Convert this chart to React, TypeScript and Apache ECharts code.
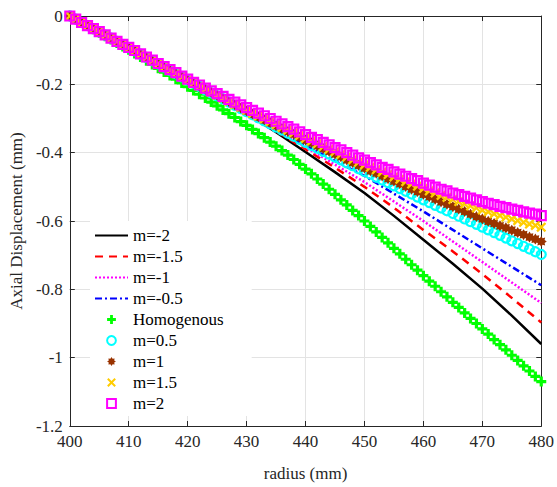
import React, { useEffect, useRef } from "react";
import * as echarts from "echarts";

// Sampling radii (mm)
const radiusFine = [
  400, 401, 402, 403, 404, 405, 406, 407, 408, 409, 410, 411, 412, 413, 414, 415, 416, 417, 418, 419,
  420, 421, 422, 423, 424, 425, 426, 427, 428, 429, 430, 431, 432, 433, 434, 435, 436, 437, 438, 439,
  440, 441, 442, 443, 444, 445, 446, 447, 448, 449, 450, 451, 452, 453, 454, 455, 456, 457, 458, 459,
  460, 461, 462, 463, 464, 465, 466, 467, 468, 469, 470, 471, 472, 473, 474, 475, 476, 477, 478, 479, 480,
];
const radiusCoarse = [400, 405, 410, 415, 420, 425, 430, 435, 440, 445, 450, 455, 460, 465, 470, 475, 480];

// Line-only series (sampled every 5 mm)
const mNeg2 = [0, -0.046, -0.093, -0.141, -0.189, -0.237, -0.286, -0.34, -0.398, -0.457, -0.518, -0.585, -0.655, -0.725, -0.798, -0.877, -0.96];
const mNeg15 = [0, -0.046, -0.093, -0.141, -0.189, -0.237, -0.285, -0.337, -0.39, -0.444, -0.5, -0.561, -0.626, -0.689, -0.755, -0.825, -0.897];
const mNeg1 = [0, -0.046, -0.093, -0.141, -0.189, -0.237, -0.284, -0.333, -0.384, -0.435, -0.486, -0.543, -0.6, -0.66, -0.72, -0.78, -0.84];
const mNeg05 = [0, -0.046, -0.093, -0.141, -0.189, -0.236, -0.283, -0.331, -0.379, -0.424, -0.468, -0.52, -0.572, -0.626, -0.68, -0.734, -0.788];

// Marker series (sampled every 1 mm)
const homogenous = [
  0, -0.0095, -0.019, -0.029, -0.039, -0.049, -0.059, -0.069, -0.079, -0.089,
  -0.099, -0.11, -0.12, -0.131, -0.142, -0.153, -0.164, -0.174, -0.185, -0.196,
  -0.207, -0.218, -0.229, -0.24, -0.252, -0.263, -0.275, -0.286, -0.297, -0.309,
  -0.32, -0.332, -0.344, -0.356, -0.369, -0.381, -0.394, -0.407, -0.42, -0.434,
  -0.448, -0.462, -0.477, -0.492, -0.507, -0.522, -0.538, -0.553, -0.569, -0.584,
  -0.6, -0.616, -0.632, -0.648, -0.664, -0.68, -0.696, -0.712, -0.728, -0.744,
  -0.76, -0.776, -0.791, -0.807, -0.822, -0.838, -0.853, -0.869, -0.885, -0.9,
  -0.916, -0.931, -0.947, -0.962, -0.977, -0.993, -1.008, -1.024, -1.039, -1.055, -1.07,
];
const m05 = [
  0, -0.009, -0.019, -0.028, -0.037, -0.046, -0.056, -0.065, -0.074, -0.084,
  -0.093, -0.102, -0.112, -0.121, -0.131, -0.14, -0.15, -0.159, -0.169, -0.178,
  -0.188, -0.197, -0.206, -0.216, -0.225, -0.234, -0.243, -0.252, -0.262, -0.271,
  -0.28, -0.289, -0.298, -0.307, -0.316, -0.325, -0.334, -0.343, -0.352, -0.361,
  -0.37, -0.379, -0.387, -0.396, -0.404, -0.413, -0.421, -0.43, -0.438, -0.447,
  -0.455, -0.463, -0.472, -0.48, -0.488, -0.497, -0.505, -0.513, -0.521, -0.53,
  -0.538, -0.546, -0.554, -0.562, -0.57, -0.578, -0.586, -0.594, -0.602, -0.61,
  -0.618, -0.626, -0.634, -0.642, -0.65, -0.658, -0.666, -0.674, -0.682, -0.69, -0.698,
];
const m1 = [
  0, -0.009, -0.019, -0.028, -0.037, -0.046, -0.056, -0.065, -0.074, -0.084,
  -0.093, -0.102, -0.112, -0.121, -0.131, -0.14, -0.15, -0.159, -0.169, -0.178,
  -0.188, -0.197, -0.206, -0.215, -0.224, -0.233, -0.242, -0.251, -0.26, -0.269,
  -0.278, -0.287, -0.295, -0.304, -0.312, -0.321, -0.329, -0.338, -0.346, -0.355,
  -0.363, -0.371, -0.38, -0.388, -0.396, -0.404, -0.412, -0.421, -0.429, -0.437,
  -0.445, -0.453, -0.46, -0.468, -0.476, -0.483, -0.491, -0.499, -0.507, -0.514,
  -0.522, -0.529, -0.536, -0.544, -0.551, -0.558, -0.565, -0.572, -0.58, -0.587,
  -0.594, -0.601, -0.607, -0.614, -0.62, -0.627, -0.634, -0.64, -0.647, -0.653, -0.66,
];
const m15 = [
  0, -0.009, -0.019, -0.028, -0.037, -0.046, -0.056, -0.065, -0.074, -0.084,
  -0.093, -0.102, -0.112, -0.121, -0.131, -0.14, -0.149, -0.159, -0.168, -0.178,
  -0.187, -0.196, -0.205, -0.214, -0.223, -0.232, -0.241, -0.25, -0.259, -0.267,
  -0.276, -0.285, -0.293, -0.301, -0.309, -0.318, -0.326, -0.334, -0.342, -0.35,
  -0.358, -0.366, -0.374, -0.382, -0.39, -0.397, -0.405, -0.413, -0.421, -0.428,
  -0.436, -0.443, -0.45, -0.457, -0.464, -0.471, -0.478, -0.485, -0.492, -0.498,
  -0.505, -0.512, -0.518, -0.525, -0.531, -0.537, -0.543, -0.55, -0.556, -0.562,
  -0.568, -0.573, -0.579, -0.584, -0.589, -0.594, -0.599, -0.604, -0.609, -0.613, -0.618,
];
const m2 = [
  0, -0.009, -0.019, -0.028, -0.037, -0.046, -0.055, -0.065, -0.074, -0.083,
  -0.092, -0.101, -0.111, -0.12, -0.129, -0.139, -0.148, -0.157, -0.166, -0.176,
  -0.185, -0.194, -0.202, -0.211, -0.219, -0.227, -0.235, -0.244, -0.252, -0.26,
  -0.268, -0.276, -0.284, -0.292, -0.3, -0.308, -0.316, -0.324, -0.331, -0.339,
  -0.347, -0.355, -0.362, -0.37, -0.377, -0.385, -0.392, -0.4, -0.407, -0.415,
  -0.422, -0.429, -0.436, -0.443, -0.449, -0.456, -0.463, -0.469, -0.476, -0.482,
  -0.489, -0.495, -0.501, -0.507, -0.512, -0.518, -0.523, -0.528, -0.533, -0.538,
  -0.543, -0.548, -0.552, -0.557, -0.561, -0.565, -0.569, -0.573, -0.577, -0.58, -0.584,
];

const xTicks = { min: 400, max: 480, interval: 10 };
const yTicks = { min: -1.2, max: 0, interval: 0.2 };

const FONT = "'Liberation Serif', 'Times New Roman', serif";
const AXIS_COLOR = "#262626";

const PLUS = "path://M3.4,0H6.6V3.4H10V6.6H6.6V10H3.4V6.6H0V3.4H3.4Z";
const CROSS = "path://M1.6,0L5,3.4L8.4,0L10,1.6L6.6,5L10,8.4L8.4,10L5,6.6L1.6,10L0,8.4L3.4,5L0,1.6Z";
const STAR =
  "path://M10,5L8.05,6.26L8.54,8.54L6.26,8.05L5,10L3.74,8.05L1.46,8.54L1.95,6.26L0,5L1.95,3.74L1.46,1.46L3.74,1.95L5,0L6.26,1.95L8.54,1.46L8.05,3.74Z";

function pair(xs: number[], ys: number[]) {
  return xs.map((x, i) => [x, ys[i]]);
}

function lineSeries(name: string, ys: number[], color: string, type: any) {
  return {
    name,
    type: "line",
    data: pair(radiusCoarse, ys),
    symbol: "none",
    showSymbol: false,
    color,
    lineStyle: { color, width: 2.5, type },
    itemStyle: { color },
    z: 2,
  };
}

function markerSeries(name: string, ys: number[], symbol: string, size: number, itemStyle: any) {
  return {
    name,
    type: "line",
    data: pair(radiusFine, ys),
    symbol,
    symbolSize: size,
    showSymbol: true,
    showAllSymbol: true,
    lineStyle: { width: 0, opacity: 0 },
    itemStyle,
    z: 3,
  };
}

const lineNames = ["m=-2", "m=-1.5", "m=-1", "m=-0.5"];
const markerNames = ["Homogenous", "m=0.5", "m=1", "m=1.5", "m=2"];

export default function App() {
  const ref = useRef<HTMLDivElement>(null);
  useEffect(() => {
    document.body.style.margin = "0";
    const chart = echarts.init(ref.current!, null, { renderer: "svg" });
    const hiddenAxisCommon = {
      axisLine: { show: true, onZero: false, lineStyle: { color: AXIS_COLOR, width: 1 } },
      axisTick: { show: true, inside: true, length: 5, lineStyle: { color: AXIS_COLOR } },
      axisLabel: { show: false },
      splitLine: { show: false },
    };
    chart.setOption({
      animation: false,
      backgroundColor: "#ffffff",
      grid: { left: 67, right: 12, top: 16, bottom: 49, containLabel: false },
      xAxis: [
        {
          type: "value",
          ...xTicks,
          name: "radius (mm)",
          nameLocation: "middle",
          nameGap: 39,
          nameTextStyle: { fontFamily: FONT, fontSize: 17, color: AXIS_COLOR },
          axisLine: { show: true, onZero: false, lineStyle: { color: AXIS_COLOR, width: 1 } },
          axisTick: { show: true, inside: true, length: 5, lineStyle: { color: AXIS_COLOR } },
          axisLabel: { fontFamily: FONT, fontSize: 17, color: AXIS_COLOR, margin: 7 },
          splitLine: { show: true, lineStyle: { color: "#e3e3e3", width: 1 } },
        },
        { type: "value", position: "top", ...xTicks, ...hiddenAxisCommon },
      ],
      yAxis: [
        {
          type: "value",
          ...yTicks,
          name: "Axial Displacement (mm)",
          nameLocation: "middle",
          nameGap: 42,
          nameTextStyle: { fontFamily: FONT, fontSize: 17, color: AXIS_COLOR },
          axisLine: { show: true, onZero: false, lineStyle: { color: AXIS_COLOR, width: 1 } },
          axisTick: { show: true, inside: true, length: 5, lineStyle: { color: AXIS_COLOR } },
          axisLabel: { fontFamily: FONT, fontSize: 17, color: AXIS_COLOR, margin: 7 },
          splitLine: { show: true, lineStyle: { color: "#e3e3e3", width: 1 } },
        },
        { type: "value", position: "right", ...yTicks, ...hiddenAxisCommon },
      ],
      legend: {
        orient: "vertical",
        left: 90,
        top: 221,
        itemWidth: 33,
        itemHeight: 11,
        itemGap: 4,
        padding: [6, 28, 4, 4],
        backgroundColor: "#ffffff",
        borderWidth: 0,
        textStyle: { fontFamily: FONT, fontSize: 17, color: "#000", lineHeight: 17 },
        data: [
          ...lineNames.map((name) => ({ name, itemStyle: { opacity: 0 } })),
          ...markerNames.map((name) => ({ name })),
        ],
      },
      series: [
        lineSeries("m=-2", mNeg2, "#000000", "solid"),
        lineSeries("m=-1.5", mNeg15, "#ff0000", [8, 6]),
        lineSeries("m=-1", mNeg1, "#ff00ff", [2, 2]),
        lineSeries("m=-0.5", mNeg05, "#0000ff", [7, 3, 2, 3]),
        markerSeries("Homogenous", homogenous, PLUS, 10, { color: "#00ff00" }),
        markerSeries("m=0.5", m05, "circle", 9, { color: "rgba(0,0,0,0)", borderColor: "#00ffff", borderWidth: 2.2 }),
        markerSeries("m=1", m1, STAR, 11, { color: "#993300" }),
        markerSeries("m=1.5", m15, CROSS, 10, { color: "#ffcc00" }),
        markerSeries("m=2", m2, "rect", 9, { color: "rgba(0,0,0,0)", borderColor: "#ff00ff", borderWidth: 2.2 }),
      ],
    });
    return () => chart.dispose();
  }, []);
  return <div ref={ref} style={{ width: 557, height: 487 }} />;
}
